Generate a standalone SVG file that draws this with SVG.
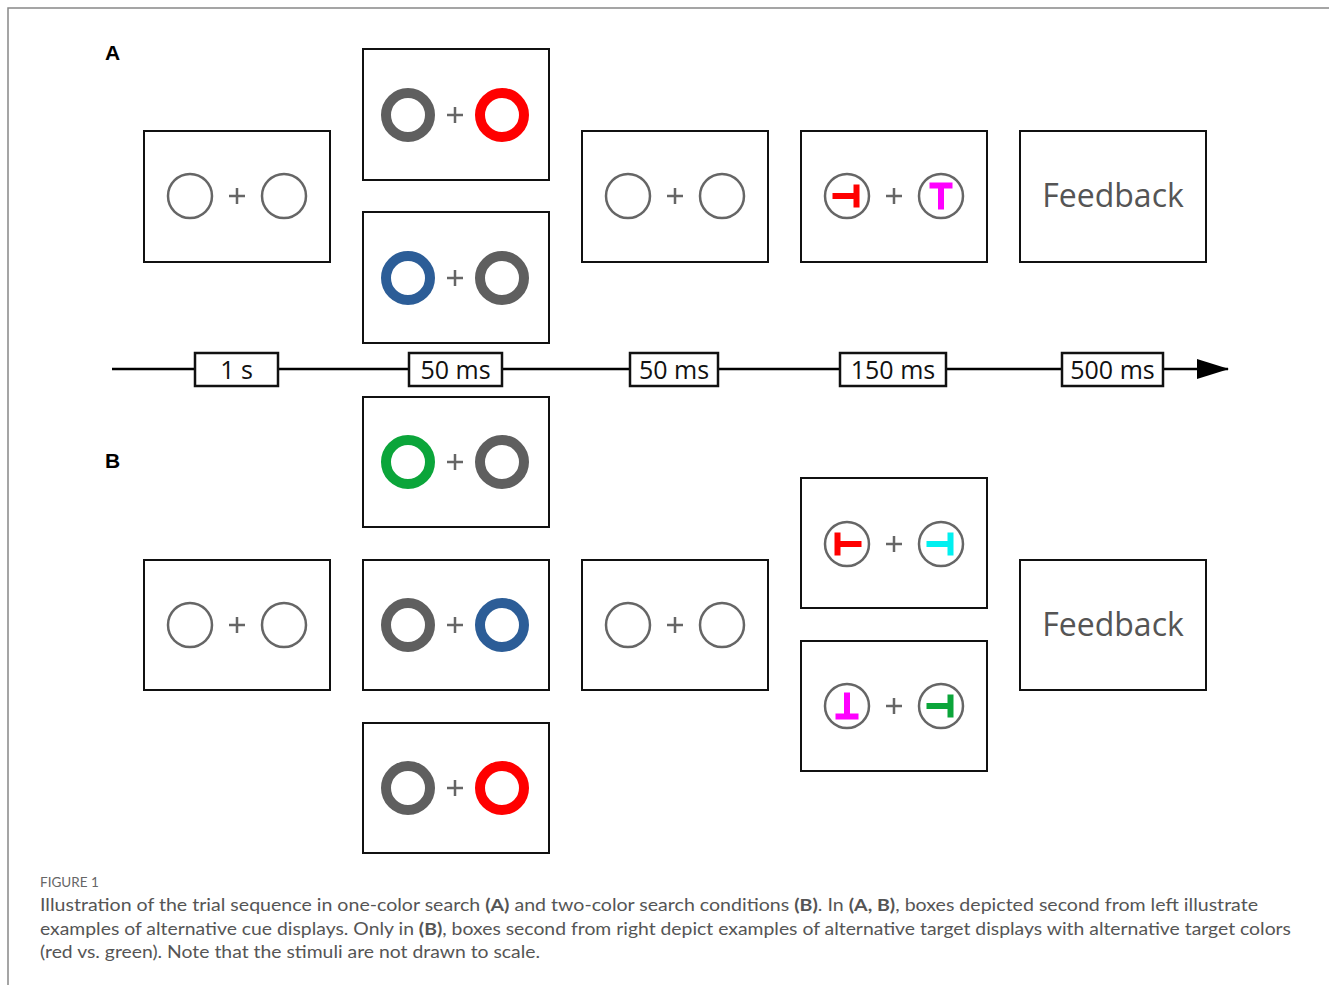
<svg xmlns="http://www.w3.org/2000/svg" width="1329" height="985" viewBox="0 0 1329 985">
  <defs>
    <style>
      .frame { fill: none; stroke: #888; stroke-width: 1.5; }
      .box { fill: #fff; stroke: #111; stroke-width: 2; }
      .ph { fill: none; stroke: #666; stroke-width: 2.5; }
      .ring { fill: none; stroke-width: 10; }
      .plus { stroke: #666; stroke-width: 2.5; }
      .gray { stroke: #5f5f5f; }
      .red { stroke: #ff0000; }
      .blue { stroke: #2c5d97; }
      .green { stroke: #0ba53a; }
      .panel { font-family: "Liberation Sans", Arial, sans-serif; font-weight: bold; font-size: 21px; fill: #000; }
      .dur { font-family: "Open Sans", "Noto Sans", sans-serif; font-size: 25px; fill: #111; text-anchor: middle; }
      .fb { font-family: "Open Sans", "Noto Sans", sans-serif; font-size: 32px; fill: #555; text-anchor: middle; }
      .lbl { fill: #fff; stroke: #111; stroke-width: 2.5; }
      .cap { font-family: "Lato", "Open Sans", sans-serif; font-size: 17.5px; fill: #555; }
      .caph { font-family: "Lato", "Open Sans", sans-serif; font-size: 13.5px; fill: #666; }
    </style>
    <!-- upright T glyph, centred on the origin -->
    <symbol id="t" overflow="visible">
      <path d="M-11.5,-13.5 H11.5 V-7.5 H3 V13.5 H-3 V-7.5 H-11.5 Z"/>
    </symbol>
    <!-- placeholder pair: two thin circles and a fixation cross -->
    <g id="pair">
      <circle class="ph" cx="-47" cy="0" r="22"/>
      <circle class="ph" cx="47" cy="0" r="22"/>
      <path class="plus" d="M-8,0 H8 M0,-8 V8"/>
    </g>
    <g id="cross">
      <path class="plus" d="M-8,0 H8 M0,-8 V8"/>
    </g>
    <marker id="arrow" viewBox="0 0 32 20" refX="31" refY="10" markerWidth="32" markerHeight="20" markerUnits="userSpaceOnUse" orient="auto">
      <path d="M0,0 L32,10 L0,20 Z" fill="#000"/>
    </marker>
  </defs>

  <rect width="1329" height="985" fill="#fff"/>
  <path class="frame" d="M8,985 V8 H1329"/>

  <text class="panel" x="105" y="60">A</text>
  <text class="panel" x="105" y="468">B</text>

  <!-- timeline -->
  <g id="connectors">
    <line x1="112" y1="369" x2="1228" y2="369" stroke="#000" stroke-width="2.5" marker-end="url(#arrow)"/>
  </g>

  <g id="durations">
    <rect class="lbl" x="195" y="353" width="83" height="33"/>
    <text class="dur" x="236.5" y="379">1 s</text>
    <rect class="lbl" x="409" y="353" width="93" height="33"/>
    <text class="dur" x="455.5" y="379">50 ms</text>
    <rect class="lbl" x="630" y="353" width="88" height="33"/>
    <text class="dur" x="674" y="379">50 ms</text>
    <rect class="lbl" x="840" y="353" width="106" height="33"/>
    <text class="dur" x="893" y="379">150 ms</text>
    <rect class="lbl" x="1062" y="353" width="101" height="33"/>
    <text class="dur" x="1112.5" y="379">500 ms</text>
  </g>

  <!-- Panel A -->
  <g id="a-fix">
    <rect class="box" x="144" y="131" width="186" height="131"/>
    <use href="#pair" x="237" y="196"/>
  </g>
  <g id="a-cue1">
    <rect class="box" x="363" y="49" width="186" height="131"/>
    <circle class="ring gray" cx="408" cy="115" r="22"/>
    <circle class="ring red" cx="502" cy="115" r="22"/>
    <use href="#cross" x="455" y="115"/>
  </g>
  <g id="a-cue2">
    <rect class="box" x="363" y="212" width="186" height="131"/>
    <circle class="ring blue" cx="408" cy="278" r="22"/>
    <circle class="ring gray" cx="502" cy="278" r="22"/>
    <use href="#cross" x="455" y="278"/>
  </g>
  <g id="a-delay">
    <rect class="box" x="582" y="131" width="186" height="131"/>
    <use href="#pair" x="675" y="196"/>
  </g>
  <g id="a-target">
    <rect class="box" x="801" y="131" width="186" height="131"/>
    <use href="#pair" x="894" y="196"/>
    <use href="#t" transform="translate(846,196) rotate(90)" fill="#ff0000"/>
    <use href="#t" transform="translate(941,196)" fill="#ff00ff"/>
  </g>
  <g id="a-feedback">
    <rect class="box" x="1020" y="131" width="186" height="131"/>
    <text class="fb" x="1113" y="207">Feedback</text>
  </g>

  <!-- Panel B -->
  <g id="b-fix">
    <rect class="box" x="144" y="560" width="186" height="130"/>
    <use href="#pair" x="237" y="625"/>
  </g>
  <g id="b-cue1">
    <rect class="box" x="363" y="397" width="186" height="130"/>
    <circle class="ring green" cx="408" cy="462" r="22"/>
    <circle class="ring gray" cx="502" cy="462" r="22"/>
    <use href="#cross" x="455" y="462"/>
  </g>
  <g id="b-cue2">
    <rect class="box" x="363" y="560" width="186" height="130"/>
    <circle class="ring gray" cx="408" cy="625" r="22"/>
    <circle class="ring blue" cx="502" cy="625" r="22"/>
    <use href="#cross" x="455" y="625"/>
  </g>
  <g id="b-cue3">
    <rect class="box" x="363" y="723" width="186" height="130"/>
    <circle class="ring gray" cx="408" cy="788" r="22"/>
    <circle class="ring red" cx="502" cy="788" r="22"/>
    <use href="#cross" x="455" y="788"/>
  </g>
  <g id="b-delay">
    <rect class="box" x="582" y="560" width="186" height="130"/>
    <use href="#pair" x="675" y="625"/>
  </g>
  <g id="b-target1">
    <rect class="box" x="801" y="478" width="186" height="130"/>
    <use href="#pair" x="894" y="544"/>
    <use href="#t" transform="translate(848,544) rotate(-90)" fill="#ff0000"/>
    <use href="#t" transform="translate(940,544) rotate(90)" fill="#00f0f0"/>
  </g>
  <g id="b-target2">
    <rect class="box" x="801" y="641" width="186" height="130"/>
    <use href="#pair" x="894" y="706"/>
    <use href="#t" transform="translate(847,706) rotate(180)" fill="#ff00ff"/>
    <use href="#t" transform="translate(940,706) rotate(90)" fill="#0ba53a"/>
  </g>
  <g id="b-feedback">
    <rect class="box" x="1020" y="560" width="186" height="130"/>
    <text class="fb" x="1113" y="636">Feedback</text>
  </g>

  <!-- caption -->
  <g id="caption">
    <text class="caph" x="40" y="887">FIGURE 1</text>
    <text class="cap" x="40" y="911" textLength="1218" lengthAdjust="spacingAndGlyphs">Illustration of the trial sequence in one-color search <tspan font-weight="bold">(A)</tspan> and two-color search conditions <tspan font-weight="bold">(B)</tspan>. In <tspan font-weight="bold">(A, B)</tspan>, boxes depicted second from left illustrate</text>
    <text class="cap" x="40" y="935" textLength="1251" lengthAdjust="spacingAndGlyphs">examples of alternative cue displays. Only in <tspan font-weight="bold">(B)</tspan>, boxes second from right depict examples of alternative target displays with alternative target colors</text>
    <text class="cap" x="40" y="958" textLength="500" lengthAdjust="spacingAndGlyphs">(red vs. green). Note that the stimuli are not drawn to scale.</text>
  </g>
</svg>
